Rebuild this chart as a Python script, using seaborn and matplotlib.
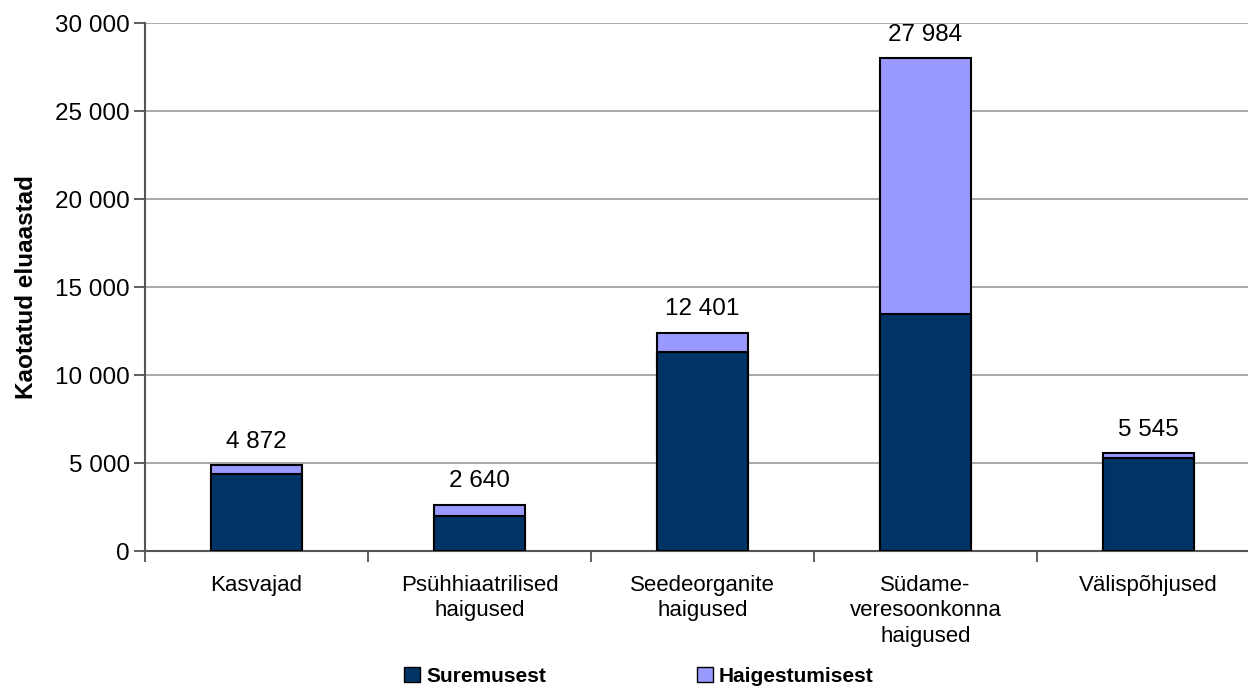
import matplotlib
matplotlib.use("Agg")
import matplotlib.pyplot as plt
import seaborn as sns
import pandas as pd
from matplotlib.ticker import FuncFormatter, FixedLocator
from matplotlib.patches import Patch

categories = ["Kasvajad", "Psühhiaatrilised\nhaigused", "Seedeorganite\nhaigused",
              "Südame-\nveresoonkonna\nhaigused", "Välispõhjused"]
suremusest = [4400, 2010, 11320, 13480, 5300]
totals = [4872, 2640, 12401, 27984, 5545]
total_labels = ["4 872", "2 640", "12 401", "27 984", "5 545"]
series_names = ["Suremusest", "Haigestumisest"]

dark = "#003366"
light = "#9999FF"

sns.set_theme(style="white")
plt.rcParams["font.family"] = ["Liberation Sans", "DejaVu Sans"]
plt.rcParams["text.color"] = "black"
plt.rcParams["xtick.color"] = "black"
plt.rcParams["ytick.color"] = "black"
plt.rcParams["axes.labelcolor"] = "black"

df = pd.DataFrame({"cat": categories, "sur": suremusest, "tot": totals})

fig = plt.figure(figsize=(12.48, 6.9), dpi=100)
ax = fig.add_axes([145 / 1248, (690 - 551) / 690, 1115 / 1248, 528 / 690])

sns.barplot(data=df, x="cat", y="tot", color=light, saturation=1, width=0.405,
            edgecolor="black", linewidth=1.5, ax=ax, zorder=3)
sns.barplot(data=df, x="cat", y="sur", color=dark, saturation=1, width=0.405,
            edgecolor="black", linewidth=1.5, ax=ax, zorder=3)

for i, (t, lab) in enumerate(zip(totals, total_labels)):
    ax.annotate(lab, (i, t), xytext=(0, 9), textcoords="offset points",
                ha="center", va="bottom", fontsize=17.5, color="black")

ax.set_ylim(0, 30000)
ax.set_xlim(-0.5, 4.5)
ax.yaxis.set_major_locator(FixedLocator([0, 5000, 10000, 15000, 20000, 25000, 30000]))
ax.yaxis.set_major_formatter(FuncFormatter(lambda v, p: f"{int(v):,}".replace(",", " ")))
ax.grid(axis="y", color="#9a9a9a", linewidth=1.2, zorder=0)
ax.set_axisbelow(True)

ax.set_xlabel("")
ax.set_ylabel("Kaotatud eluaastad", fontsize=17.5, fontweight="bold", labelpad=12)
ax.tick_params(axis="y", labelsize=17.5, length=8, width=1.2, color="#444444", pad=3, left=True)
ax.tick_params(axis="x", which="major", labelsize=16, length=0, pad=17)
for lbl in ax.get_xticklabels():
    lbl.set_linespacing(1.3)
ax.set_xticks([-0.5, 0.5, 1.5, 2.5, 3.5, 4.5], minor=True)
ax.tick_params(axis="x", which="minor", length=8, width=1.2, color="#444444", bottom=True)

for s in ["top", "right"]:
    ax.spines[s].set_visible(False)
for s in ["left", "bottom"]:
    ax.spines[s].set_color("#555555")
    ax.spines[s].set_linewidth(1.5)

handles = [Patch(facecolor=dark, edgecolor="black", label=series_names[0]),
           Patch(facecolor=light, edgecolor="black", label=series_names[1])]
fig.legend(handles=handles, loc="center", bbox_to_anchor=(0.512, 0.02), ncol=2,
           frameon=False, prop={"weight": "bold", "size": 15},
           handlelength=0.75, handleheight=0.75, handletextpad=0.3, columnspacing=7.25)

fig.savefig("out.png", dpi=100)
